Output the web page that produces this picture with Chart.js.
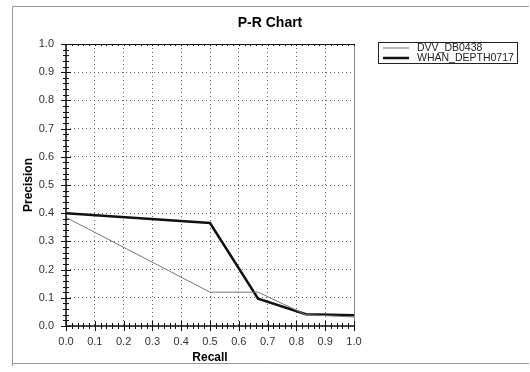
<!DOCTYPE html>
<html>
<head>
<meta charset="utf-8">
<script src="https://cdn.jsdelivr.net/npm/chart.js@4/dist/chart.umd.min.js"></script>
<style>
  html, body { margin: 0; padding: 0; background: #fff; }
  #wrap { width: 530px; height: 372px; }
</style>
</head>
<body>
<div id="wrap"><canvas id="prChart" width="530" height="372"></canvas></div>
<script>
let chartTitle = "P-R Chart"
let seriesNames = ["DVV_DB0438", "WHAN_DEPTH0717"]
let recall = [0, 0.5, 0.667, 0.833, 1.0]
let dvvPrecision = [0.385, 0.12, 0.12, 0.04, 0.032]
let whanPrecision = [0.40, 0.365, 0.097, 0.042, 0.038]

let font = "'Liberation Sans', Arial, sans-serif"

function points(xs, ys) {
  return xs.map((x, i) => ({ x: x, y: ys[i] }))
}

// frame, axis crosses, title and boxed legend
let decorations = {
  id: "decorations",
  afterDraw(chart) {
    let ctx = chart.ctx
    let a = chart.chartArea
    let xs = chart.scales.x
    let ys = chart.scales.y
    ctx.save()

    // outer frame
    ctx.strokeStyle = "#999"
    ctx.lineWidth = 1
    ctx.beginPath()
    ctx.moveTo(12.5, 366)
    ctx.lineTo(12.5, 6.5)
    ctx.lineTo(529, 6.5)
    ctx.moveTo(12.5, 363.5)
    ctx.lineTo(529, 363.5)
    ctx.stroke()

    // plot frame
    ctx.strokeStyle = "#888"
    ctx.beginPath()
    ctx.moveTo(a.right + 0.5, a.top)
    ctx.lineTo(a.right + 0.5, a.bottom)
    ctx.stroke()
    ctx.strokeStyle = "#111"
    ctx.beginPath()
    ctx.moveTo(a.left, a.top + 0.5)
    ctx.lineTo(a.right, a.top + 0.5)
    ctx.stroke()
    ctx.lineWidth = 1.5
    ctx.beginPath()
    ctx.moveTo(a.left, a.top)
    ctx.lineTo(a.left, a.bottom)
    ctx.lineTo(a.right, a.bottom)
    ctx.stroke()

    // minor / major tick crosses
    ctx.lineWidth = 1
    ctx.strokeStyle = "#111"
    ctx.beginPath()
    for (let i = 0; i <= 50; i++) {
      let v = i / 50
      let major = i % 5 == 0
      let len = major ? 5 : 3
      let px = Math.round(xs.getPixelForValue(v)) + 0.5
      ctx.moveTo(px, a.bottom - len)
      ctx.lineTo(px, a.bottom + len)
      ctx.moveTo(px, a.top)
      ctx.lineTo(px, a.top + 2)
      let py = Math.round(ys.getPixelForValue(v)) + 0.5
      ctx.moveTo(a.left - len, py)
      ctx.lineTo(a.left + len, py)
    }
    ctx.stroke()

    // title
    ctx.fillStyle = "#000"
    ctx.font = "bold 14px " + font
    ctx.textAlign = "center"
    ctx.textBaseline = "middle"
    ctx.fillText(chartTitle, 270, 23)

    // legend
    ctx.strokeStyle = "#222"
    ctx.lineWidth = 1
    ctx.strokeRect(378.5, 42.5, 139, 21)
    ctx.font = "10.5px " + font
    ctx.textAlign = "left"
    chart.data.datasets.forEach((ds, i) => {
      let y = 48 + i * 10
      ctx.strokeStyle = ds.borderColor
      ctx.lineWidth = ds.borderWidth
      ctx.beginPath()
      ctx.moveTo(383, y)
      ctx.lineTo(409, y)
      ctx.stroke()
      ctx.fillStyle = "#222"
      ctx.fillText(ds.label, 417, y)
    })
    ctx.restore()
  }
}

let axisTicks = {
  color: "#333",
  font: { family: font, size: 11 },
  stepSize: 0.1,
  callback: (v) => v.toFixed(1),
}

let aChart = new Chart(document.getElementById("prChart"), {
  type: "scatter",
  data: {
    datasets: [
      {
        label: seriesNames[0],
        data: points(recall, dvvPrecision),
        showLine: true,
        borderColor: "#777",
        borderWidth: 1,
        pointRadius: 0,
      },
      {
        label: seriesNames[1],
        data: points(recall, whanPrecision),
        showLine: true,
        borderColor: "#111",
        borderWidth: 2.5,
        pointRadius: 0,
      },
    ],
  },
  options: {
    responsive: false,
    animation: false,
    layout: { padding: { left: 0, top: 44, right: 176, bottom: 0 } },
    plugins: {
      legend: { display: false },
      title: { display: false },
      tooltip: { enabled: false },
    },
    scales: {
      x: {
        type: "linear",
        min: 0,
        max: 1,
        ticks: Object.assign({}, axisTicks, { padding: 9, maxRotation: 0 }),
        grid: { color: "#666", drawTicks: false },
        border: { display: false, dash: [1, 3] },
        title: {
          display: true,
          text: "Recall",
          color: "#000",
          font: { family: font, size: 12, weight: "bold" },
          padding: { top: 0, bottom: 7 },
        },
        afterFit: (s) => { s.height = 46 },
      },
      y: {
        type: "linear",
        min: 0,
        max: 1,
        ticks: Object.assign({}, axisTicks, { padding: 12 }),
        grid: { color: "#666", drawTicks: false },
        border: { display: false, dash: [1, 3] },
        title: {
          display: true,
          text: "Precision",
          color: "#000",
          font: { family: font, size: 12, weight: "bold" },
          padding: { top: 21, bottom: 0 },
        },
        afterFit: (s) => { s.width = 66 },
      },
    },
  },
  plugins: [decorations],
});
</script>
</body>
</html>
